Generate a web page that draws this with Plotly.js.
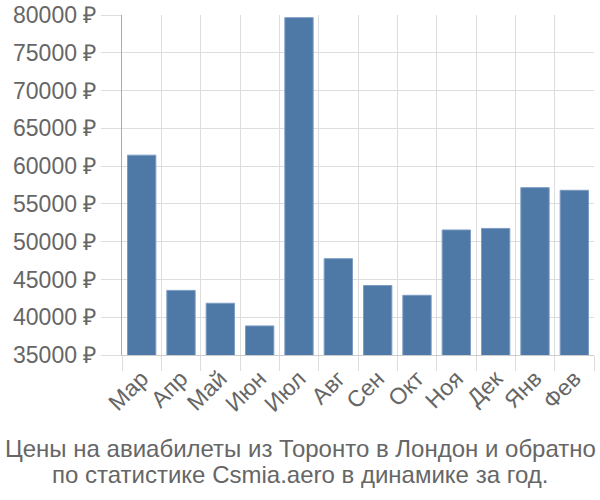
<!DOCTYPE html>
<html>
<head>
<meta charset="utf-8">
<script src="https://cdn.plot.ly/plotly-3.0.1.min.js"></script>
<style>html,body{margin:0;padding:0;background:#fff;}#chart{width:600px;height:500px;}</style>
</head>
<body>
<div id="chart"></div>
<script>
const months = ["Мар","Апр","Май","Июн","Июл","Авг","Сен","Окт","Ноя","Дек","Янв","Фев"];
const prices = [61450, 43550, 41850, 38850, 79650, 47750, 44200, 42900, 51550, 51750, 57150, 56800];
const yTicks = [35000,40000,45000,50000,55000,60000,65000,70000,75000,80000];
const yTickText = yTicks.map(v => v + " ₽");
const titleLines = ["Цены на авиабилеты из Торонто в Лондон и обратно","по статистике Csmia.aero в динамике за год."];

const trace = {
  type: "bar",
  x: months,
  y: prices,
  marker: {color: "#4e79a7", line: {color: "#7d9cc2", width: 1}},
  hoverinfo: "x+y"
};

const titleY = [448, 474];
const layout = {
  width: 600, height: 500,
  margin: {l: 122, r: 6, t: 15, b: 145},
  paper_bgcolor: "#fff", plot_bgcolor: "#fff",
  bargap: 0.28,
  showlegend: false,
  font: {family: "Liberation Sans, Arial, sans-serif", color: "#666"},
  xaxis: {
    type: "category",
    tickson: "boundaries",
    showgrid: true, gridcolor: "#dddddd", gridwidth: 1,
    ticks: "outside", ticklen: 15, tickcolor: "#dddddd",
    tickangle: -45,
    tickfont: {size: 23, color: "#666"},
    showline: true, linecolor: "#cccccc", linewidth: 1,
    zeroline: false
  },
  yaxis: {
    range: [35000, 80000],
    tickvals: yTicks, ticktext: yTickText,
    showgrid: true, gridcolor: "#dddddd", gridwidth: 1,
    ticks: "outside", ticklen: 20, tickcolor: "#dddddd",
    tickfont: {size: 23, color: "#666"},
    showline: true, linecolor: "#aaaaaa", linewidth: 1,
    zeroline: false
  },
  annotations: titleLines.map((t, i) => ({
    xref: "paper", yref: "paper",
    x: (300 - 122) / 472, y: -(titleY[i] - 355) / 340,
    xanchor: "center", yanchor: "middle",
    showarrow: false,
    text: t,
    font: {family: "Liberation Sans, Arial, sans-serif", size: 24, color: "#666"}
  }))
};

Plotly.newPlot("chart", [trace], layout, {staticPlot: true, displayModeBar: false});
</script>
</body>
</html>
